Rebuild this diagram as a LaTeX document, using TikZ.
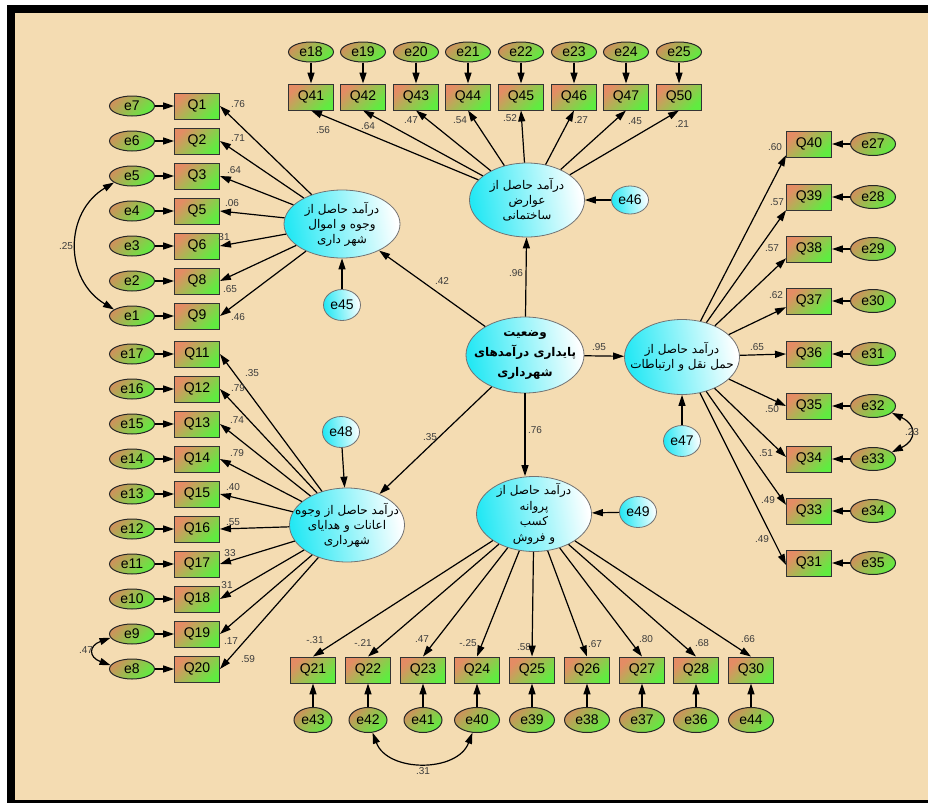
\documentclass[tikz,border=0pt]{standalone}
\usepackage{fontspec}
\setmainfont{Liberation Sans}
\newfontfamily\farsifont[Script=Arabic]{DejaVu Sans}
\TeXXeTstate=1
\usetikzlibrary{arrows.meta, shapes.geometric}
\definecolor{wheatbg}{RGB}{244,220,178}
\definecolor{obstan}{RGB}{228,140,100}
\definecolor{restan}{RGB}{206,146,92}
\definecolor{obsgreen}{RGB}{96,236,64}
\definecolor{latcyan}{RGB}{36,232,244}
\definecolor{coefgray}{RGB}{60,60,60}
\newcommand{\prs}[1]{\beginR #1\endR}
\tikzset{
		indicator/.style={rectangle, draw=black!80, line width=0.9pt, minimum width=45pt, minimum height=26pt, inner sep=0pt, left color=obstan, right color=obsgreen, shading angle=45, font=\fontsize{14}{16}\selectfont},
		residual/.style={ellipse, draw=black!85, line width=1pt, minimum width=45pt, minimum height=20pt, inner sep=0pt, left color=restan, right color=obsgreen, shading angle=45, font=\fontsize{14}{16}\selectfont},
		factor/.style={ellipse, draw=black!55, line width=0.8pt, minimum width=115pt, minimum height=74pt, inner xsep=-16pt, inner ysep=-8pt, left color=latcyan, right color=white, shading angle=100, align=center, font=\farsifont\fontsize{12}{15}\selectfont},
		disturbance/.style={ellipse, draw=black!55, line width=0.8pt, minimum width=37pt, minimum height=31pt, inner sep=0pt, left color=latcyan, right color=white, shading angle=100, font=\fontsize{14}{16}\selectfont},
		regress/.style={->, line width=1.2pt},
		cov/.style={<->, line width=1.2pt},
		coef/.style={inner sep=0pt, text=coefgray, font=\fontsize{10}{12}\selectfont}
	}
\begin{document}
\begin{tikzpicture}[x=1pt, y=-1pt, >={Triangle[length=11pt, width=7pt]}]
		\useasboundingbox (0,0) rectangle (928,803);
		\fill[white] (0,0) rectangle (928,803);
		\fill[black] (7,5) rectangle (928,803);
		\fill[wheatbg] (15,13) rectangle (928,800);

		% latent variables
		\node[factor, minimum width=118pt, minimum height=76pt, font=\farsifont\bfseries\fontsize{12}{20}\selectfont] (paydari) at (525,355) {\prs{وضعیت}\\\prs{پایداری درآمدهای}\\\prs{شهرداری}};
		\node[factor, minimum width=116pt, minimum height=68pt] (amval) at (342,224) {\prs{درآمد حاصل از}\\\prs{وجوه و اموال}\\\prs{شهر داری}};
		\node[factor] (avarez) at (527,200) {\prs{درآمد حاصل از}\\\prs{عوارض}\\\prs{ساختمانی}};
		\node[factor, minimum height=75pt] (haml) at (682,357) {\prs{درآمد حاصل از}\\\prs{حمل نقل و ارتباطات}};
		\node[factor, minimum height=75pt, font=\farsifont\fontsize{12}{15.5}\selectfont] (parvane) at (534,514) {\prs{درآمد حاصل از}\\\prs{پروانه}\\\prs{کسب}\\\prs{و فروش}};
		\node[factor] (eanat) at (347,525) {\prs{درآمد حاصل از وجوه}\\\prs{اعانات و هدایای}\\\prs{شهرداری}};

		\node[disturbance] (e45) at (342,305) {e45};
		\node[disturbance, minimum height=28pt] (e46) at (630,200) {e46};
		\node[disturbance] (e47) at (682,441) {e47};
		\node[disturbance] (e48) at (341,432) {e48};
		\node[disturbance] (e49) at (638,512) {e49};

		% structural paths
		\draw[regress] (paydari) -- (amval);
		\draw[regress] (paydari) -- (avarez);
		\draw[regress] (paydari) -- (haml);
		\draw[regress] (paydari) -- (eanat);
		\draw[regress] (paydari.south) -- (paydari.south |- parvane.north);
		\draw[regress] (e45) -- (amval);
		\draw[regress] (e46) -- (avarez);
		\draw[regress] (e47) -- (haml);
		\draw[regress] (e48) -- (eanat);
		\draw[regress] (e49) -- (parvane);
		\node[coef] (bamval)   at (442,281) {.42};
		\node[coef] (bavarez)  at (516,273) {.96};
		\node[coef] (bhaml)    at (599,347) {.95};
		\node[coef] (beanat)   at (430,437) {.35};
		\node[coef] (bparvane) at (535,430) {.76};

		% indicators on the left, upper block
		\foreach \q/\e/\y/\val/\lx/\ly in {1/7/106/.76/238/104, 2/6/141/.71/238/138, 3/5/176/.64/234/170, 5/4/211/.06/232/203, 6/3/246/31/224/237, 8/2/281/.65/230/289, 9/1/316/.46/238/317}{
			\node[indicator] (Q\q) at (197,\y) {Q\q};
			\node[residual]  (e\e) at (132,\y) {e\e};
			\node[coef]      (c\q) at (\lx,\ly) {\val};
			\draw[regress] (e\e) -- (Q\q);
			\draw[regress] (amval) -- (Q\q.east);
		}

		% indicators on the left, lower block
		\foreach \q/\e/\y/\val/\lx/\ly in {11/17/354/.35/252/373, 12/16/389/.79/238/388, 13/15/424/.74/237/420, 14/14/459/.79/237/453, 15/13/494/.40/233/487, 16/12/529/.55/233/522, 17/11/564/33/230/553, 18/10/599/31/227/585, 19/9/634/.17/231/641, 20/8/669/.59/248/659}{
			\node[indicator] (Q\q) at (197,\y) {Q\q};
			\node[residual]  (e\e) at (132,\y) {e\e};
			\node[coef]      (c\q) at (\lx,\ly) {\val};
			\draw[regress] (e\e) -- (Q\q);
			\draw[regress] (eanat) -- (Q\q.east);
		}

		% indicators on top
		\foreach \q/\e/\x/\val/\lx/\ly in {41/18/311/.56/323/130, 42/19/363/.64/368/126, 43/20/416/.47/411/120, 44/21/468/.54/460/120, 45/22/521/.52/510/118, 46/23/574/.27/581/120, 47/24/626/.45/635/121, 50/25/679/.21/682/124}{
			\node[indicator] (Q\q) at (\x,97) {Q\q};
			\node[residual]  (e\e) at (\x,52) {e\e};
			\node[coef]      (c\q) at (\lx,\ly) {\val};
			\draw[regress] (e\e) -- (Q\q);
			\draw[regress] (avarez) -- (Q\q.south);
		}

		% indicators on the right
		\foreach \q/\e/\y/\ang/\val/\lx/\ly in {40/27/144/206/.60/775/147, 39/28/197/210/.57/777/202, 38/29/249/202/.57/772/248, 37/30/301/195/.62/776/295, 36/31/354/180/.65/757/347, 35/32/406/180/.50/772/409, 34/33/459/175/.51/766/453, 33/34/511/165/.49/768/500, 31/35/563/185/.49/762/539}{
			\node[indicator] (Q\q) at (809,\y) {Q\q};
			\node[residual, minimum height=23pt] (e\e) at (873,\y) {e\e};
			\node[coef]      (c\q) at (\lx,\ly) {\val};
			\draw[regress] (e\e) -- (Q\q);
			\draw[regress] (haml) -- (Q\q.\ang);
		}

		% indicators at the bottom
		\foreach \q/\e/\x/\w/\val/\lx/\ly in {21/43/313/38pt/-.31/315/640, 22/42/368/38pt/-.21/363/643, 23/41/423/38pt/.47/422/639, 24/40/477/45pt/-.25/468/643, 25/39/532/45pt/.58/524/647, 26/38/587/45pt/.67/595/644, 27/37/642/45pt/.80/646/639, 28/36/696/45pt/.68/702/643, 30/44/751/45pt/.66/748/639}{
			\node[indicator] (Q\q) at (\x,670) {Q\q};
			\node[residual, minimum width=\w, minimum height=25pt] (e\e) at (\x,720) {e\e};
			\node[coef]      (c\q) at (\lx,\ly) {\val};
			\draw[regress] (e\e) -- (Q\q);
			\draw[regress] (parvane) -- (Q\q.north);
		}

		% covariances
		\draw[cov] (e5.200) .. controls +(-50,30) and +(-50,-30) .. (e1.160);
		\draw[cov] (e9.190) .. controls +(-22,8) and +(-22,-8) .. (e8.170);
		\draw[cov] (e32.-20) .. controls +(25,12) and +(25,-12) .. (e33.20);
		\draw[cov] (e42.-70) .. controls +(15,40) and +(-15,40) .. (e40.-110);
		\node[coef] (r51)  at (66,246)  {.25};
		\node[coef] (r98)  at (86,650)  {.47};
		\node[coef] (r3233) at (912,432) {.23};
		\node[coef] (r4240) at (423,771) {.31};
	\end{tikzpicture}
\end{document}
